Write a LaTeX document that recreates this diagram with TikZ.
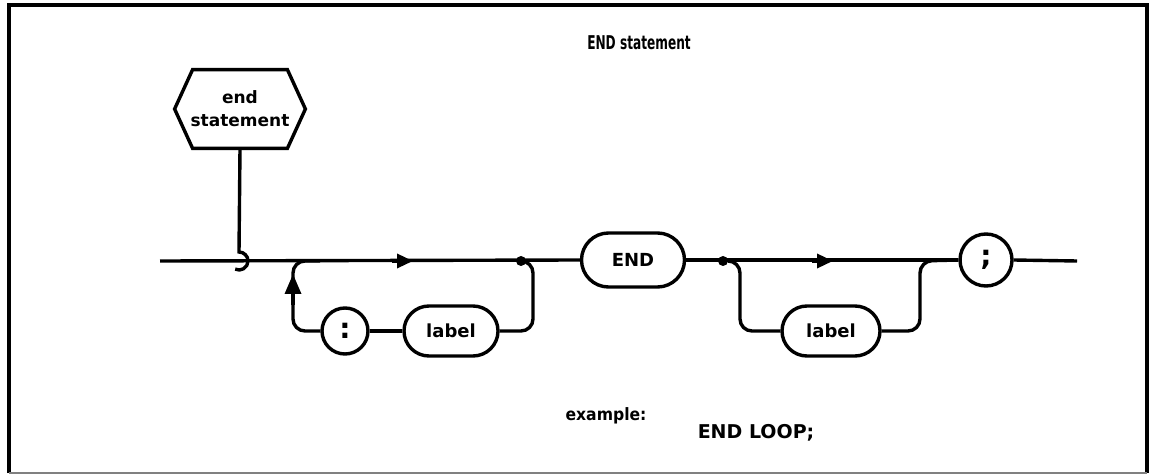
\documentclass[tikz,border=0pt]{standalone}
\usepackage{fontspec}
\setmainfont{DejaVu Sans}
\usepackage{graphicx}
\usetikzlibrary{shapes.misc,arrows.meta,calc}
\begin{document}
\begin{tikzpicture}[x=0.5pt,y=-0.5pt,
  ln/.style={line width=1.7pt},
  term/.style={draw,line width=1.7pt,rounded rectangle,minimum width=47pt,minimum height=25pt,inner sep=0pt,font=\bfseries\fontsize{9}{10}\selectfont},
  circ/.style={draw,line width=1.7pt,circle,inner sep=0pt,font=\bfseries\fontsize{14}{14}\selectfont},
  arr/.style={line width=1.7pt,-{Triangle[length=8pt,width=7pt]}},
  uparr/.style={line width=1.7pt,-{Triangle[length=10pt,width=8pt]}},
  dot/.style={fill,circle,inner sep=0pt,minimum size=5pt},
  txt/.style={inner sep=0pt,font=\bfseries\fontsize{9}{10}\selectfont},
  rc/.style={ln,rounded corners=6pt}]
\useasboundingbox (0,0) rectangle (1149,475);
% frame
\draw[line width=2pt] (9,473) -- (9,5) -- (1147,5) -- (1147,473);
\draw[gray,line width=0.6pt] (9,473) -- (1147,473);
% title
\node[txt,font=\bfseries\fontsize{9.5}{10}\selectfont] (title) at (639,43) {\scalebox{0.64}[1]{END statement}};
% hexagon
\node[inner sep=0pt,minimum width=65pt,minimum height=39pt,align=center,
      font=\bfseries\fontsize{8.5}{11.5}\selectfont] (hex) at (240,109) {end\\statement};
\draw[ln,line join=miter] (hex.west) -- ($(hex.north west)+(18,0)$) -- ($(hex.north east)+(-18,0)$)
   -- (hex.east) -- ($(hex.south east)+(-18,0)$) -- ($(hex.south west)+(18,0)$) -- cycle;
% coordinates on main line
\coordinate (s) at (160,261);
\coordinate (hk) at (239,261);
\coordinate (b1) at (293,261);
\coordinate (b1r) at (320,261);
\coordinate (a1s) at (392,261);
\coordinate (a1) at (413,261);
\coordinate (j1) at (533,261);
\coordinate (b2) at (740,261);
\coordinate (a2s) at (812,261);
\coordinate (a2) at (833,261);
\coordinate (j2) at (920,261);
\coordinate (e) at (1077,261);
\coordinate (a3s) at (293,305);
\coordinate (a3) at (293,274);
% nodes
\node[term,minimum width=51.5pt,minimum height=27pt] (END) at (633,260) {END};
\node[circ,minimum size=26pt] (semi) at (986,260) {;};
\node[circ,minimum size=23pt] (colon) at (345,331) {:};
\node[term] (lab1) at (451,331) {label};
\node[term,minimum width=49pt] (lab2) at (831,331) {label};
\node[dot] (d1) at (521,261) {};
\node[dot] (d2) at (723,261) {};
% hook from hexagon
\draw[ln] (hex.south) -- ($(hk)+(0,-9)$) arc[start angle=-90,end angle=115,radius=9];
% main line
\draw[ln] (s) -- (END.west);
\draw[ln] (END.east) -- (semi.west);
\draw[ln] (semi.east) -- (e);
\draw[arr] (a1s) -- (a1);
\draw[arr] (a2s) -- (a2);
% left loop
\draw[rc] (d1) -- (j1) |- (lab1.east);
\draw[ln] (lab1.west) -- (colon.east);
\draw[rc] (colon.west) -| (b1) -- (b1r);
\draw[uparr] (a3s) -- (a3);
% right bypass
\draw[rc] (d2) -- (b2) |- (lab2.west);
\draw[rc] (lab2.east) -| (j2) -- (semi.west);
% example
\node[txt,font=\bfseries\fontsize{8.5}{10}\selectfont] (ex) at (606,416) {\scalebox{0.92}[1]{example:}};
\node[txt,font=\bfseries\fontsize{9.5}{11}\selectfont] (code) at (756,433) {END LOOP;};
\end{tikzpicture}
\end{document}
